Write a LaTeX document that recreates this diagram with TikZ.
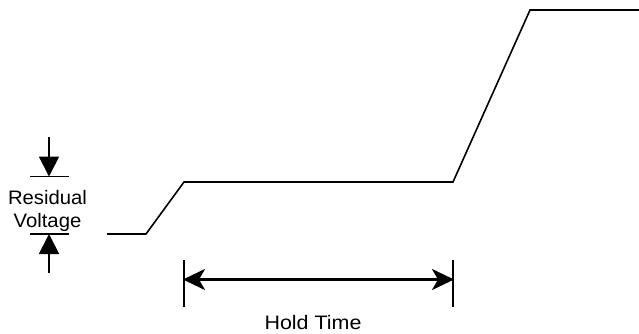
\documentclass[tikz,border=0pt]{standalone}
\usepackage{fontspec}
\setmainfont{Liberation Sans}
\usetikzlibrary{arrows.meta}
\begin{document}
\begin{tikzpicture}[x=1pt,y=-1pt,
  wave/.style={line width=1.6pt, line join=miter},
  bar/.style={line width=1.8pt},
  hbar/.style={line width=2.6pt},
  lbl/.style={font=\fontsize{19.5}{23.5}\selectfont, align=center, inner sep=0pt}]
\useasboundingbox (0,0) rectangle (639,333);
% waveform
\coordinate (w0) at (107,234);
\coordinate (w1) at (146,234);
\coordinate (w2) at (184,182);
\coordinate (w3) at (453,182);
\coordinate (w4) at (530,10);
\coordinate (w5) at (639,10);
\draw[wave] (w0) -- (w1) -- (w2) -- (w3) -- (w4) -- (w5);
% residual voltage markers
\coordinate (tb1) at (30,176.5);
\coordinate (tb2) at (69,176.5);
\coordinate (ta0) at (49,137);
\coordinate (ta1) at (49,176.5);
\coordinate (bb1) at (30,234);
\coordinate (bb2) at (69,234);
\coordinate (ba0) at (49,273);
\coordinate (ba1) at (49,234);
\draw[bar] (tb1) -- (tb2);
\draw[bar] (bb1) -- (bb2);
\draw[bar, -{Triangle[length=20pt,width=20pt]}] (ta0) -- (ta1);
\draw[bar, -{Triangle[length=20pt,width=20pt]}] (ba0) -- (ba1);
\node[lbl, xscale=1.04] (rv) at (47.5,211) {Residual\\Voltage};
% hold time
\coordinate (h1a) at (184,260);
\coordinate (h1b) at (184,307);
\coordinate (h2a) at (453,260);
\coordinate (h2b) at (453,307);
\coordinate (hl) at (184,279.5);
\coordinate (hr) at (453,279.5);
\draw[hbar] (h1a) -- (h1b);
\draw[hbar] (h2a) -- (h2b);
\draw[hbar, {Stealth[length=22pt,width=21pt,inset=6pt]}-{Stealth[length=22pt,width=21pt,inset=6pt]}, shorten <=-1pt, shorten >=-1pt] (hl) -- (hr);
\node[lbl, xscale=1.1] (ht) at (313,323) {Hold Time};
\end{tikzpicture}
\end{document}
